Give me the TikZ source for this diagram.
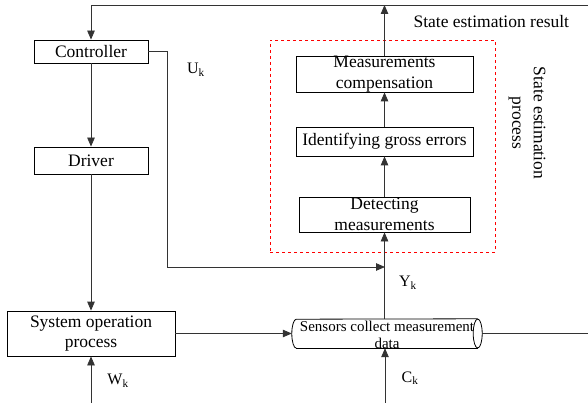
\documentclass[tikz,border=0pt]{standalone}
\usepackage{fontspec}
\setmainfont{Liberation Serif}
\usepackage{tikz}
\usetikzlibrary{calc}
\usetikzlibrary{arrows.meta}

\begin{document}
\begin{tikzpicture}[x=1pt, y=-1pt,
    procbox/.style={draw, line width=0.8pt, inner xsep=2pt, inner ysep=0pt,
      align=center, font=\fontsize{17.5}{20.5}\selectfont},
    flow/.style={line width=0.8pt, draw=black!80, -{Triangle[length=9pt,width=7.5pt]}},
    wire/.style={line width=0.8pt, draw=black!80},
    sublabel/.style={font=\fontsize{16}{18}\selectfont}]
              \useasboundingbox (0, 0) rectangle (588, 403);
              \newcommand{\procbox}[5]
              {%
                \node[procbox, minimum width=#3pt, minimum height=#4pt] (#1) at #2 {#5};%
              }%
              % left column
              \procbox{ctrl}{(91, 51.5)}{114}{23}{Controller}
              \procbox{driver}{(91, 160.5)}{114}{27}{Driver}
              \procbox{system}{(91, 333.5)}{168}{45}{System operation\\process}
              % state estimation
              \node[draw=red, dashed, line width=0.7pt, minimum width=225pt, minimum height=212pt] (frame) at (382.5, 146) {};
              \procbox{measure}{(384.5, 74)}{177}{36}{Measurements\\compensation}
              \procbox{ident}{(384.5, 141.5)}{177}{29}{Identifying gross errors}
              \procbox{detect}{(384.5, 214.5)}{171}{35}{Detecting\\measurements}
              % sensors (pipe)
              \node[inner sep=0pt, minimum width=190pt, minimum height=29pt] (sensors) at (387, 333.5) {};
              \draw[line width=0.8pt] ($(sensors.south west)+(4.5,0)$)
                arc[start angle=90, end angle=270, x radius=4.5, y radius=14.5]
                -- ($(sensors.north east)+(-4.5,0)$);
              \draw[line width=0.8pt] ($(sensors.south west)+(4.5,0)$) -- ($(sensors.south east)+(-4.5,0)$);
              \draw[line width=0.8pt] ($(sensors.east)+(-4.5,0)$) ellipse[x radius=4.5, y radius=14.5];
              \node[align=center, inner sep=0pt, font=\fontsize{15}{17}\selectfont] (sensorstext) at (387, 335) {Sensors collect measurement\\data};
              \node[rotate=-90, align=center, font=\fontsize{17.5}{21.5}\selectfont] (proclabel) at (527, 123) {State estimation\\process};
              \node[anchor=west, font=\fontsize{17.5}{20}\selectfont] (result) at (410, 22) {State estimation result};
              % free ends
              \coordinate (topR) at (588, 5);
              \coordinate (outR) at (588, 333.5);
              \coordinate (ukturn) at (167, 267);
              \coordinate (ykjoin) at (385, 267);
              \coordinate (wIn) at (91, 403);
              \coordinate (cIn) at (385, 403);
              % connectors
              \draw[flow] (topR) -| (ctrl.north);
              \draw[flow] (measure.north) -- (measure.north |- topR);
              \draw[flow] (ctrl) -- (driver);
              \draw[flow] (driver) -- (system);
              \draw[flow] (ctrl.east) -| (ukturn) -- (ykjoin);
              \draw[flow] (sensors.north -| detect.south) -- (detect.south);
              \draw[flow] (detect) -- (ident);
              \draw[flow] (ident) -- (measure);
              \draw[flow] (system.east) -- (sensors.west);
              \draw[wire] (sensors.east) -- (outR);
              \draw[flow] (wIn) -- (system.south);
              \draw[flow] (cIn) -- (cIn |- sensors.south);
              % signal labels
              \node[sublabel] (uk) at (196, 70) {U\textsubscript{k}};
              \node[sublabel] (yk) at (408, 283) {Y\textsubscript{k}};
              \node[sublabel] (wk) at (118, 381) {W\textsubscript{k}};
              \node[sublabel] (ck) at (410, 378) {C\textsubscript{k}};
            \end{tikzpicture}
\end{document}
